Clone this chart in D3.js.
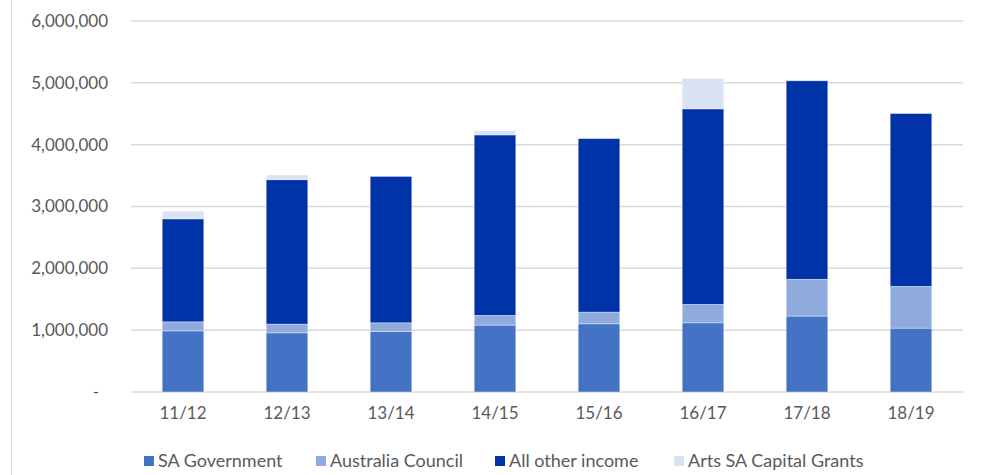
<!DOCTYPE html>
<html>
<head>
<meta charset="utf-8">
<script src="https://cdn.jsdelivr.net/npm/d3@7"></script>
<style>
  body { margin: 0; background: #fff; }
  text { font-family: Lato, "Liberation Sans", sans-serif; fill: #595959; }
</style>
</head>
<body>
<script>
"use strict";

// financial years
var years = ["11/12", "12/13", "13/14", "14/15", "15/16", "16/17", "17/18", "18/19"];

// income by source
var saGovernment  = [989000, 957000, 979000, 1082000, 1103000, 1119000, 1228000, 1033000];
var ausCouncil    = [146000, 141000, 140000, 157000, 189000, 298000, 595000, 676000];
var otherIncome   = [1665000, 2335000, 2367000, 2919000, 2806000, 3162000, 3210000, 2794000];
var capitalGrants = [125000, 76000, 0, 69000, 0, 492000, 0, 0];

var seriesNames  = ["SA Government", "Australia Council", "All other income", "Arts SA Capital Grants"];
var seriesColors = ["#4472C4", "#8FAADC", "#0033A8", "#DAE3F3"];
var yTicks = [0, 1000000, 2000000, 3000000, 4000000, 5000000, 6000000];

var W = 995, H = 475;
var plot = {left: 131, right: 963, top: 21, bottom: 392};

var data = years.map(function(y, i) {
  return {year: y, s0: saGovernment[i], s1: ausCouncil[i], s2: otherIncome[i], s3: capitalGrants[i]};
});

var stack = d3.stack().keys(["s0", "s1", "s2", "s3"]);
var layers = stack(data);

var x = d3.scaleBand().domain(years).range([plot.left, plot.right])
    .paddingInner(0.6).paddingOuter(0.3);
var y = d3.scaleLinear().domain([0, 6000000]).range([plot.bottom, plot.top]);

var svg = d3.select("body").append("svg")
    .attr("width", W)
    .attr("height", H);

// chart border on the left
svg.append("line")
    .attr("x1", 11.5).attr("x2", 11.5)
    .attr("y1", 0).attr("y2", H)
    .attr("stroke", "#d9d9d9").attr("stroke-width", 1);

// gridlines
svg.append("g")
  .selectAll("line")
  .data(yTicks)
  .join("line")
    .attr("x1", plot.left).attr("x2", plot.right)
    .attr("y1", function(d) { return y(d); })
    .attr("y2", function(d) { return y(d); })
    .attr("stroke", "#d9d9d9")
    .attr("stroke-width", 1.5);

// y labels
var fmt = d3.format(",");
svg.append("g")
  .selectAll("text")
  .data(yTicks)
  .join("text")
    .attr("x", function(d) { return d === 0 ? 99 : 108; })
    .attr("y", function(d) { return y(d); })
    .attr("dy", "0.35em")
    .attr("text-anchor", "end")
    .style("font-size", "17px")
    .text(function(d) { return d === 0 ? "-" : fmt(d); });

// bars
svg.append("g")
  .selectAll("g")
  .data(layers)
  .join("g")
    .attr("fill", function(d, i) { return seriesColors[i]; })
  .selectAll("rect")
  .data(function(d) { return d; })
  .join("rect")
    .attr("x", function(d) { return x(d.data.year); })
    .attr("y", function(d) { return y(d[1]); })
    .attr("width", x.bandwidth())
    .attr("height", function(d) { return y(d[0]) - y(d[1]); })
    .attr("stroke", "#fff")
    .attr("stroke-opacity", 0.5)
    .attr("stroke-width", 0.75);

// x labels
svg.append("g")
  .selectAll("text")
  .data(years)
  .join("text")
    .attr("x", function(d) { return x(d) + x.bandwidth() / 2; })
    .attr("y", 413)
    .attr("dy", "0.35em")
    .attr("text-anchor", "middle")
    .style("font-size", "17px")
    .text(function(d) { return d; });

// legend
var legendX = [144, 316, 495, 674];
var legend = svg.append("g")
  .selectAll("g")
  .data(seriesNames)
  .join("g")
    .attr("transform", function(d, i) { return "translate(" + legendX[i] + ",461)"; });

legend.append("rect")
    .attr("x", 0).attr("y", -5)
    .attr("width", 10).attr("height", 10)
    .attr("fill", function(d, i) { return seriesColors[i]; });

legend.append("text")
    .attr("x", 14)
    .attr("dy", "0.35em")
    .style("font-size", "18px")
    .text(function(d) { return d; });
</script>
</body>
</html>
